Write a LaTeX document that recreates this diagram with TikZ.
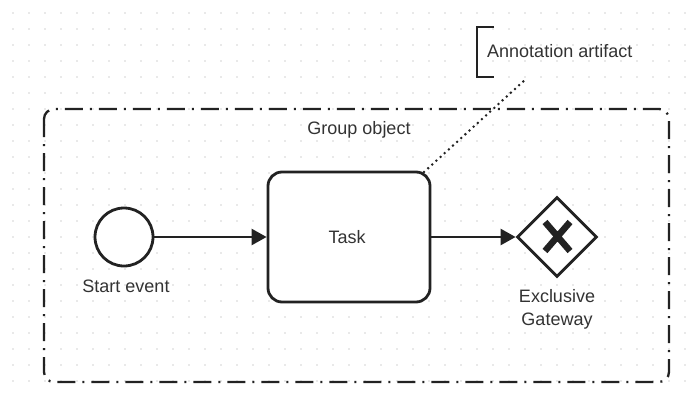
\documentclass[tikz,border=0pt]{standalone}
\usepackage{fontspec}
\setmainfont{Liberation Sans}
\usetikzlibrary{shapes.geometric,arrows.meta}
\definecolor{ink}{HTML}{222222}
\definecolor{txt}{HTML}{333333}
\definecolor{griddot}{HTML}{D4D4D4}
\tikzset{
  lbl/.style={text=txt,font=\fontsize{18}{22}\selectfont,align=center,inner sep=0pt},
  flowline/.style={draw=ink,line width=2.5pt,-{Triangle[length=15pt,width=16pt]}},
  groupbox/.style={draw=ink,line width=2.3pt,rounded corners=10pt,
    dash pattern=on 18pt off 7pt on 2pt off 7pt},
  assoc/.style={draw=ink,line width=2.8pt,line cap=round,dash pattern=on 0pt off 5.6pt},
}
\begin{document}
\begin{tikzpicture}[x=1pt,y=-1pt]
  \useasboundingbox[fill=white] (0,0) rectangle (692,393);
  % background dot grid
  \foreach \i in {0,...,42} {
    \foreach \j in {0,...,23} {
      \fill[griddot] (13+16*\i,13+16*\j) circle (0.9pt);
    }
  }
  % group
  \draw[groupbox] (44,109) rectangle (669,382);
  \node[lbl] (grouplbl) at (359,130) {Group object};
  % start event
  \node[circle,draw=ink,line width=2.8pt,fill=white,minimum size=58pt,inner sep=0pt] (start) at (124,237) {};
  \node[lbl] (startlbl) at (126,286) {Start event};
  % task
  \node[draw=ink,line width=2.8pt,fill=white,rounded corners=14pt,minimum width=162pt,minimum height=130pt] (task) at (349,237) {};
  \node[lbl] (tasklbl) at (347,237) {Task};
  % exclusive gateway
  \node[diamond,draw=ink,line width=2.8pt,fill=white,minimum width=80pt,minimum height=80pt,inner sep=0pt] (gw) at (557,237) {};
  \draw[ink,line width=6.5pt] (545,222) -- (570,251) (570,222) -- (545,251);
  \node[lbl] (gwlbl) at (557,309) {Exclusive\\[1pt]Gateway};
  % sequence flows
  \draw[flowline] (start.east) -- (task.west);
  \draw[flowline] (task.east) -- (gw.west);
  % text annotation
  \coordinate (annTop) at (494,27);
  \coordinate (annBot) at (494,77);
  \draw[ink,line width=2.8pt] (annTop) -- (477,27) -- (477,77) -- (annBot);
  \node[lbl,anchor=west] (ann) at (487,51) {Annotation artifact};
  \coordinate (annFoot) at (527,78);
  \coordinate (taskCorner) at (424,172);
  \draw[assoc] (taskCorner) -- (annFoot);
\end{tikzpicture}
\end{document}
